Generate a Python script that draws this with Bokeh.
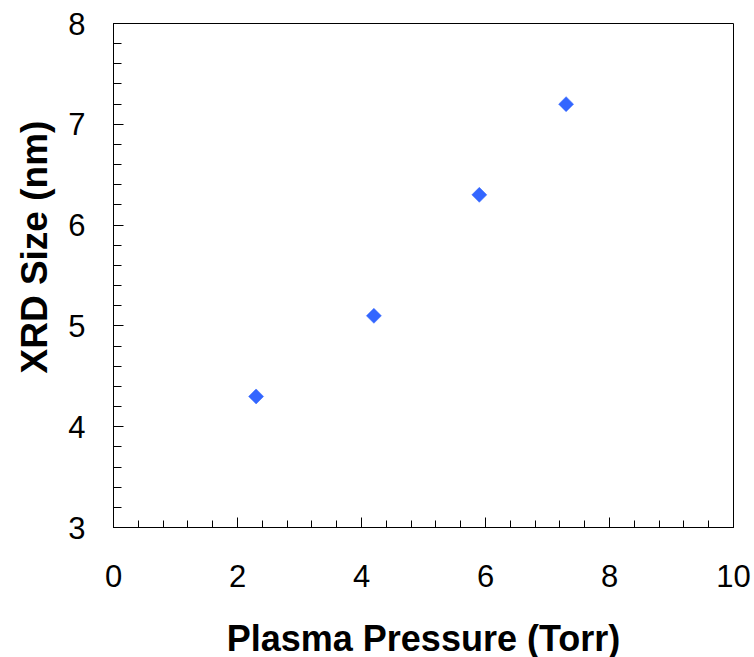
import math
from bokeh.plotting import figure
from bokeh.models import SingleIntervalTicker, Range1d, Title, ColumnDataSource
from bokeh.embed import file_html
from bokeh.resources import INLINE

# Data
pressure_torr = [2.3, 4.2, 5.9, 7.3]
xrd_size_nm = [4.3, 5.1, 6.3, 7.2]

x_title = "Plasma Pressure (Torr)"
y_title = "XRD Size (nm)"

FONT = "Liberation Sans"

p = figure(
    frame_width=620, frame_height=504,
    output_backend="svg", toolbar_location=None,
    x_range=Range1d(0, 10), y_range=Range1d(3, 8),
    min_border_left=113, min_border_top=23, min_border_right=18, min_border_bottom=0,
)
p.background_fill_color = "white"
p.border_fill_color = "white"
p.outline_line_color = "black"
p.outline_line_width = 1
p.xgrid.visible = False
p.ygrid.visible = False

src = ColumnDataSource(dict(x=pressure_torr, y=xrd_size_nm))
p.scatter("x", "y", source=src, marker="square", size=10.6, angle=math.pi / 4,
          fill_color="#3366FF", line_color="#3366FF", line_width=0.5)

# X axis
xa = p.xaxis[0]
xa.ticker = SingleIntervalTicker(interval=2, num_minor_ticks=5)
xa.axis_label = x_title
xa.axis_label_text_font = FONT
xa.axis_label_text_font_size = "36px"
xa.axis_label_text_font_style = "bold"
xa.axis_label_text_color = "black"
xa.axis_label_standoff = 28
xa.major_label_text_font = FONT
xa.major_label_text_font_size = "31px"
xa.major_label_text_color = "black"
xa.major_label_standoff = 37
xa.major_tick_in = 10
xa.major_tick_out = 0
xa.minor_tick_in = 7
xa.minor_tick_out = 0
xa.axis_line_color = "black"
xa.major_tick_line_color = "black"
xa.minor_tick_line_color = "black"

# Y axis
ya = p.yaxis[0]
ya.ticker = SingleIntervalTicker(interval=1, num_minor_ticks=5)
ya.major_label_text_font = FONT
ya.major_label_text_font_size = "31px"
ya.major_label_text_color = "black"
ya.major_label_standoff = 28
ya.major_tick_in = 10
ya.major_tick_out = 0
ya.minor_tick_in = 8
ya.minor_tick_out = 0
ya.axis_line_color = "black"
ya.major_tick_line_color = "black"
ya.minor_tick_line_color = "black"

# Y title (off-centre as in the reference)
p.add_layout(Title(
    text=y_title, align="left", offset=154, standoff=21,
    text_font=FONT, text_font_size="37px", text_font_style="bold",
    text_color="black",
), "left")

open("out.html", "w").write(file_html(p, INLINE))
